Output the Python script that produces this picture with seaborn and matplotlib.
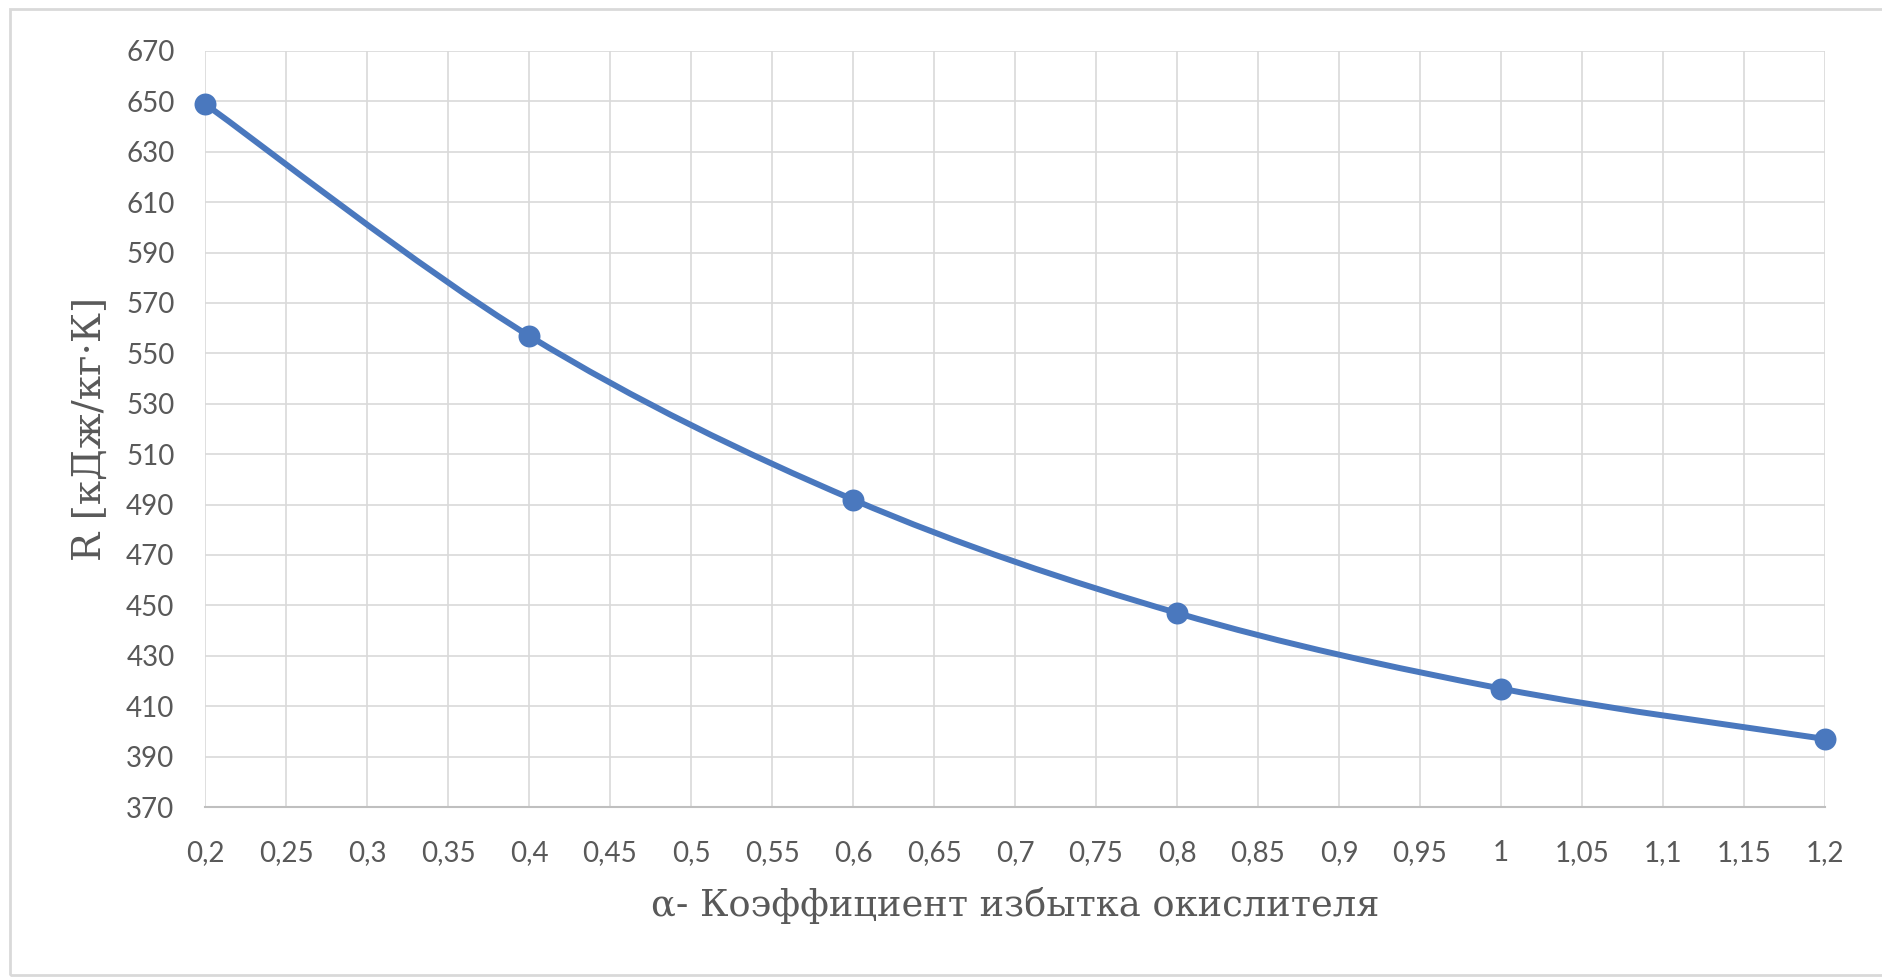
import matplotlib
matplotlib.use("Agg")
import matplotlib.pyplot as plt
import matplotlib.patches as mpatches
from matplotlib.path import Path
import numpy as np
import seaborn as sns

# data
alpha = [0.2, 0.4, 0.6, 0.8, 1.0, 1.2]
r_values = [649, 557, 492, 447, 417, 397]

x_ticks = [0.2, 0.25, 0.3, 0.35, 0.4, 0.45, 0.5, 0.55, 0.6, 0.65, 0.7,
           0.75, 0.8, 0.85, 0.9, 0.95, 1.0, 1.05, 1.1, 1.15, 1.2]
x_tick_labels = ["0,2", "0,25", "0,3", "0,35", "0,4", "0,45", "0,5", "0,55",
                 "0,6", "0,65", "0,7", "0,75", "0,8", "0,85", "0,9", "0,95",
                 "1", "1,05", "1,1", "1,15", "1,2"]
y_ticks = list(range(370, 671, 20))

x_label = "α- Коэффициент избытка окислителя"
y_label = "R [кДж/кг·К]"

LINE = "#4A78BE"
GRID = "#D9D9D9"
TEXT = "#595959"
SERIF = ["DejaVu Serif", "Liberation Serif"]

sns.set_style("white")
plt.rcParams["font.family"] = ["Lato", "DejaVu Sans"]

fig = plt.figure(figsize=(18.83, 9.77), dpi=100)
ax = fig.add_axes([205 / 1883, 1 - 807 / 977, (1825 - 205) / 1883, (807 - 51) / 977])


def smooth_path(xs, ys, t=1 / 6):
    """Excel-style smoothed line as cubic bezier segments."""
    pts = np.column_stack([xs, ys]).astype(float)
    n = len(pts)
    verts = [pts[0]]
    codes = [Path.MOVETO]
    for i in range(n - 1):
        p0 = pts[i - 1] if i > 0 else pts[i]
        p1, p2 = pts[i], pts[i + 1]
        p3 = pts[i + 2] if i + 2 < n else pts[i + 1]
        verts += [p1 + (p2 - p0) * t, p2 - (p3 - p1) * t, p2]
        codes += [Path.CURVE4] * 3
    return Path(verts, codes)


ax.add_patch(mpatches.PathPatch(smooth_path(alpha, r_values), facecolor="none",
                                edgecolor=LINE, lw=4.3, zorder=3,
                                capstyle="round", joinstyle="round"))
sns.scatterplot(x=alpha, y=r_values, ax=ax, s=250, color=LINE,
                edgecolor=LINE, linewidth=0, zorder=4, clip_on=False)

ax.set_xlim(0.2, 1.2)
ax.set_ylim(370, 670)
ax.set_xticks(x_ticks)
ax.set_xticklabels(x_tick_labels)
ax.set_yticks(y_ticks)
ax.grid(True, color=GRID, lw=1.2)
ax.set_axisbelow(True)
for side in ["top", "right", "left"]:
    ax.spines[side].set_visible(False)
ax.spines["bottom"].set_color("#BFBFBF")
ax.spines["bottom"].set_linewidth(1.5)

ax.tick_params(axis="both", length=0, labelsize=20, labelcolor=TEXT)
ax.tick_params(axis="x", pad=24)
ax.tick_params(axis="y", pad=22)

ax.set_xlabel(x_label, fontsize=26.5, color=TEXT, family=SERIF, labelpad=15)
ax.set_ylabel(y_label, fontsize=28, color=TEXT, family=SERIF, labelpad=12)

# outer chart border
fig.patches.append(mpatches.Rectangle((10 / 1883, 2 / 977), 1.0, 966 / 977,
                                      transform=fig.transFigure, fill=False,
                                      edgecolor=GRID, lw=2))

fig.savefig("out.png", dpi=100, facecolor="white")
